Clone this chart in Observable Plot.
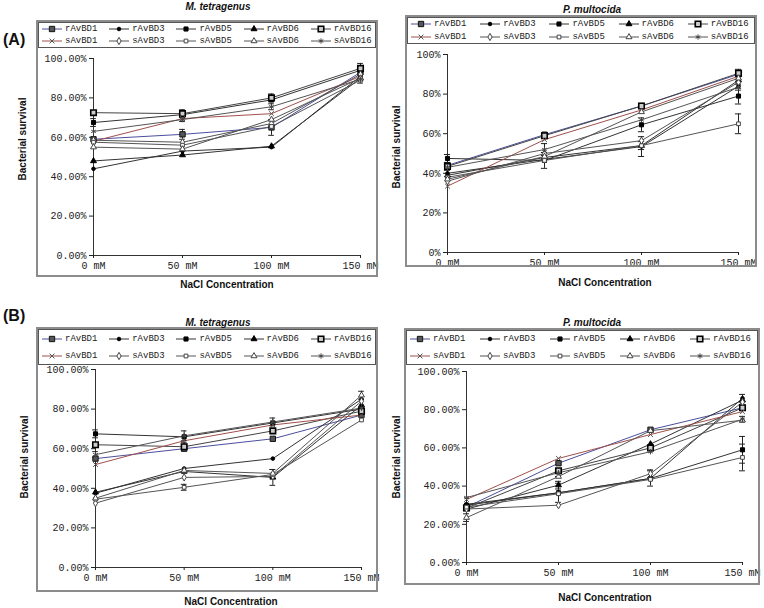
<!DOCTYPE html>
<html><head><meta charset="utf-8">
<script src="https://cdn.jsdelivr.net/npm/d3@7"></script>
<script src="https://cdn.jsdelivr.net/npm/@observablehq/plot@0.6"></script>
<style>
body{margin:0;background:#fff}
#root{position:relative;width:764px;height:608px;overflow:hidden;font-family:"Liberation Sans",Arial,sans-serif;color:#111}
.box{position:absolute;border:2px solid #8c8c8c;box-sizing:border-box}
.legend{position:absolute;border:1px solid #555;box-sizing:border-box;display:grid;grid-template-columns:repeat(5,1fr);grid-template-rows:1fr 1fr;align-items:center;font-family:"Liberation Mono",monospace;font-size:9px;color:#222;background:#fff}
.legend .cell{display:flex;align-items:center;padding-left:3px;white-space:nowrap}
.legend svg{margin-right:3px;flex:none}
.t{position:absolute;white-space:nowrap;line-height:12px}
.title{font-weight:bold;font-style:italic;font-size:10px;transform:translateX(-50%)}
.xt{font-weight:bold;font-size:10px;transform:translateX(-50%)}
.yt{font-weight:bold;font-size:10px;transform:translate(-50%,-50%) rotate(-90deg)}
.tag{font-weight:bold;font-size:16px;line-height:18px}
</style></head>
<body><div id="root"></div>
<script>
// ---- data ----
const conc = [0, 50, 100, 150];
const seriesNames = ["rAvBD1","rAvBD3","rAvBD5","rAvBD6","rAvBD16","sAvBD1","sAvBD3","sAvBD5","sAvBD6","sAvBD16"];
const yTicks = [0, 20, 40, 60, 80, 100];

// survival (%) per series (rows in seriesNames order) at 0, 50, 100, 150 mM
const A_Mtetragenus = [
  [59, 61.5, 65, 93],
  [44, 53, 55, 91],
  [67.5, 71.5, 79, 94],
  [48, 51, 55.5, 90],
  [72.5, 72, 80, 95],
  [58, 69.5, 72, 91],
  [58.5, 57.5, 67, 92],
  [57.5, 56, 65.5, 89],
  [55, 54, 69, 90],
  [63, 69, 75.5, 89.5]
];
const A_Mtetragenus_err = [
  [0, 2.5, 4, 0],[0,0,0,0],[2,0,0,0],[0,0,0,0],[0,2,2,2.5],
  [0,0,0,0],[0,0,0,0],[0,0,0,0],[0,0,0,0],[0,1,1.5,2]
];
const A_Pmultocida = [
  [44, 59.5, 74, 90],
  [40, 47, 53.5, 84],
  [47.5, 46.5, 64.5, 79],
  [39, 48, 54, 87],
  [43.5, 59, 74, 90.5],
  [33.5, 57, 72, 89],
  [36, 50, 56.5, 86],
  [38, 46.5, 54, 65],
  [37, 48.5, 71, 88],
  [43, 52, 67, 83.5]
];
const A_Pmultocida_err = [
  [0,0,0,2.5],[0,0,5,0],[2,4,3.5,4],[0,0,0,0],[0,0,0,0],
  [0,0,0,0],[0,0,0,0],[0,0,2,5],[0,0,0,0],[1.5,3,0,1.5]
];
const B_Mtetragenus = [
  [55, 60, 65, 77],
  [37.5, 50, 55, 85],
  [67.5, 66, 73, 80],
  [38, 48.5, 45.5, 82],
  [62, 61, 69, 79],
  [52, 64, 72, 77],
  [32.5, 45.5, 46, 84],
  [34.5, 40.5, 47, 74.5],
  [35, 49, 47.5, 87],
  [57, 66.5, 73.5, 80.5]
];
const B_Mtetragenus_err = [
  [0,0,0,0],[0,0,0,0],[2,0,0,0],[0,0,4,0],[0,2,0,0],
  [0,0,0,0],[0,0,0,0],[0,1.5,0,0],[0,0,2,2],[1.5,2.5,2,0]
];
const B_Pmultocida = [
  [29, 52, 69.5, 81],
  [30.5, 36.5, 44, 86],
  [30, 36.5, 44, 59],
  [28, 40.5, 62, 85],
  [28.5, 48, 60, 81],
  [33, 54.5, 67, 79],
  [28, 30, 46.5, 84],
  [29, 36, 43.5, 55],
  [23.5, 45, 69, 74.5],
  [34, 47, 58, 75]
];
const B_Pmultocida_err = [
  [0,0,0,0],[0,0,0,2],[0,5,4,7],[0,2,0,0],[0,0,0,0],
  [0,0,0,0],[0,0,2,0],[0,0,0,7],[2,0,0,0],[0,2,0,1.5]
];

// ---- styles ----
const styles = {
  rAvBD1: {symbol:"square", fill:"#555", stroke:"#111", r:3, sw:1, line:"#4b4f9e"},
  rAvBD3: {symbol:"circle", fill:"#000", stroke:"#000", r:1.8, sw:1, line:"#333"},
  rAvBD5: {symbol:"square", fill:"#000", stroke:"#000", r:2.3, sw:1, line:"#333"},
  rAvBD6: {symbol:"triangle", fill:"#000", stroke:"#000", r:2.2, sw:1, line:"#333"},
  rAvBD16:{symbol:"square", fill:"#ccc", stroke:"#000", r:3.1, sw:1.6, line:"#444"},
  sAvBD1: {symbol:"times", fill:"none", stroke:"#555", r:2.3, sw:1, line:"#a0504c"},
  sAvBD3: {symbol:"diamond", fill:"#fff", stroke:"#444", r:2.2, sw:1, line:"#555"},
  sAvBD5: {symbol:"square", fill:"#fff", stroke:"#444", r:2.1, sw:1, line:"#555"},
  sAvBD6: {symbol:"triangle", fill:"#fff", stroke:"#444", r:2.2, sw:1, line:"#555"},
  sAvBD16:{symbol:"asterisk", fill:"none", stroke:"#444", r:2.5, sw:1, line:"#555"}
};
const d3sym = {square:d3.symbolSquare, circle:d3.symbolCircle, triangle:d3.symbolTriangle,
  times:d3.symbolTimes, diamond:d3.symbolDiamond, asterisk:d3.symbolAsterisk};

const fmt2 = d => d.toFixed(2) + "%";
const fmt0 = d => d + "%";

const panels = [
  {title:"M. tetragenus", values:A_Mtetragenus, errors:A_Mtetragenus_err, fmt:fmt2,
   box:{l:36,t:20,r:378,b:277}, legendBottom:47, plot:{l:93,r:360,t:58,b:255},
   titleY:1, titleX:218, xt:{x:227,y:279}, yt:{x:23,y:139}, tag:{text:"(A)", x:3, y:31}},
  {title:"P. multocida", values:A_Pmultocida, errors:A_Pmultocida_err, fmt:fmt0,
   box:{l:405,t:15,r:757,b:267}, legendBottom:43, plot:{l:447,r:738,t:54,b:252},
   titleY:4, titleX:592, xt:{x:605,y:277}, yt:{x:397,y:147}},
  {title:"M. tetragenus", values:B_Mtetragenus, errors:B_Mtetragenus_err, fmt:fmt2,
   box:{l:36,t:327,r:378,b:592}, legendBottom:364, plot:{l:95,r:361,t:369,b:567},
   titleY:317, titleX:218, xt:{x:231,y:596}, yt:{x:25,y:457}, tag:{text:"(B)", x:3, y:307}},
  {title:"P. multocida", values:B_Pmultocida, errors:B_Pmultocida_err, fmt:fmt2,
   box:{l:404,t:328,r:760,b:585}, legendBottom:364, plot:{l:466,r:742,t:371,b:562},
   titleY:317, titleX:592, xt:{x:605,y:592}, yt:{x:397,y:457}}
];

const root = document.getElementById("root");
function el(cls, css, text){ const d=document.createElement("div"); d.className=cls; Object.assign(d.style,css); if(text!=null) d.textContent=text; root.appendChild(d); return d; }

function swatch(name){
  const st = styles[name];
  const svg = d3.create("svg").attr("width",20).attr("height",10);
  svg.append("line").attr("x1",0).attr("x2",20).attr("y1",5).attr("y2",5).attr("stroke",st.line).attr("stroke-width",1);
  svg.append("path").attr("transform","translate(10,5)")
    .attr("d", d3.symbol(d3sym[st.symbol], Math.PI*st.r*st.r)())
    .attr("fill", st.fill).attr("stroke", st.stroke).attr("stroke-width", st.sw);
  return svg.node();
}

for (const p of panels) {
  const W = p.box.r - p.box.l, H = p.box.b - p.legendBottom;
  const rows = [];
  seriesNames.forEach((s,i) => conc.forEach((c,j) => rows.push({series:s, x:c, y:p.values[i][j], e:p.errors[i][j]})));
  const errRows = rows.filter(d => d.e > 0);
  const marks = [
    Plot.ruleY([0], {stroke:"#333", strokeWidth:1}),
    Plot.ruleX([0], {y1:0, y2:100, stroke:"#333", strokeWidth:1}),
    Plot.axisY(yTicks, {tickFormat:p.fmt, tickSize:4, tickPadding:3, label:null}),
    Plot.axisX(conc, {tickFormat:d => d + " mM", tickSize:3, tickPadding:3, label:null})
  ];
  for (const s of seriesNames) {
    marks.push(Plot.line(rows.filter(d => d.series === s), {x:"x", y:"y", stroke:styles[s].line, strokeWidth:1}));
  }
  marks.push(Plot.ruleX(errRows, {x:"x", y1:d => d.y - d.e, y2:d => d.y + d.e, stroke:"#222", strokeWidth:1}));
  marks.push(Plot.ruleY(errRows, {y:d => d.y + d.e, x1:d => d.x - 1.6, x2:d => d.x + 1.6, stroke:"#222", strokeWidth:1}));
  marks.push(Plot.ruleY(errRows, {y:d => d.y - d.e, x1:d => d.x - 1.6, x2:d => d.x + 1.6, stroke:"#222", strokeWidth:1}));
  for (const s of seriesNames) {
    const st = styles[s];
    marks.push(Plot.dot(rows.filter(d => d.series === s), {x:"x", y:"y", symbol:st.symbol, fill:st.fill, stroke:st.stroke, r:st.r, strokeWidth:st.sw}));
  }
  const svg = Plot.plot({
    width:W, height:H,
    marginLeft:p.plot.l - p.box.l, marginRight:p.box.r - p.plot.r,
    marginTop:p.plot.t - p.legendBottom, marginBottom:p.box.b - p.plot.b,
    x:{domain:[0,150]}, y:{domain:[0,100]},
    style:{fontFamily:"'Liberation Mono', monospace", fontSize:"10px", color:"#222", background:"transparent", overflow:"visible"},
    marks
  });
  Object.assign(svg.style, {position:"absolute", left:p.box.l+"px", top:p.legendBottom+"px"});
  root.appendChild(svg);

  el("box", {left:p.box.l+"px", top:p.box.t+"px", width:W+"px", height:(p.box.b-p.box.t)+"px"});
  const lg = el("legend", {left:(p.box.l+2)+"px", top:(p.box.t+2)+"px", width:(W-4)+"px", height:(p.legendBottom-p.box.t-1)+"px"});
  for (const s of seriesNames) {
    const c = document.createElement("div"); c.className="cell";
    c.appendChild(swatch(s));
    const sp = document.createElement("span"); sp.textContent = s; c.appendChild(sp);
    lg.appendChild(c);
  }
  el("t title", {left:p.titleX+"px", top:p.titleY+"px"}, p.title);
  el("t xt", {left:p.xt.x+"px", top:p.xt.y+"px"}, "NaCl Concentration");
  el("t yt", {left:p.yt.x+"px", top:p.yt.y+"px"}, "Bacterial survival");
  if (p.tag) el("t tag", {left:p.tag.x+"px", top:p.tag.y+"px"}, p.tag.text);
}
</script>
</body></html>
